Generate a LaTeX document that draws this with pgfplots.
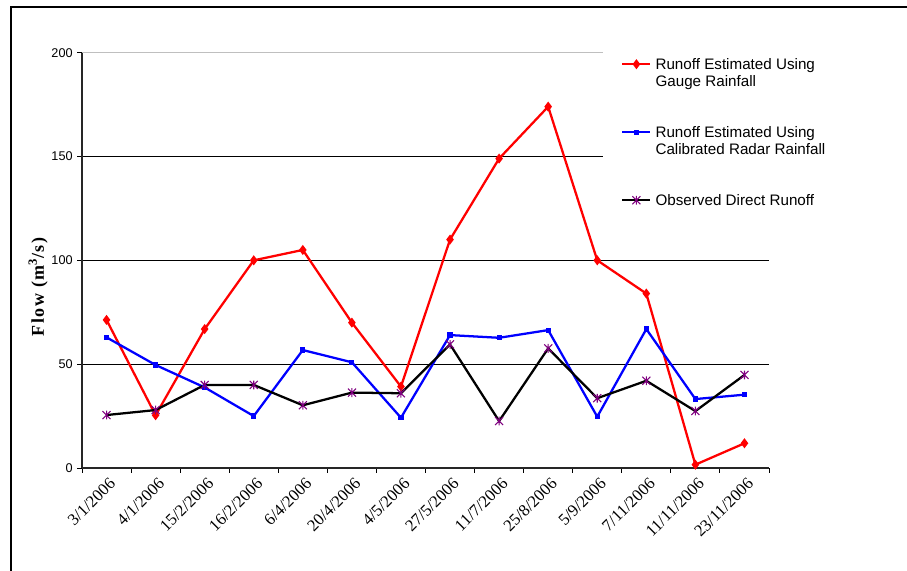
\documentclass[border=0pt]{standalone}
\usepackage{pgfplots}
\pgfplotsset{compat=1.18}
\usepackage{fontspec}
\setmainfont{Liberation Serif}
\newfontfamily\arial{Liberation Sans}
\newfontfamily\ylabfont[LetterSpace=8]{Liberation Serif}
\definecolor{starpurple}{RGB}{128,0,128}
\pgfdeclareplotmark{xlstar}{%
  \pgfpathmoveto{\pgfpoint{-\pgfplotmarksize}{-\pgfplotmarksize}}%
  \pgfpathlineto{\pgfpoint{\pgfplotmarksize}{\pgfplotmarksize}}%
  \pgfpathmoveto{\pgfpoint{-\pgfplotmarksize}{\pgfplotmarksize}}%
  \pgfpathlineto{\pgfpoint{\pgfplotmarksize}{-\pgfplotmarksize}}%
  \pgfpathmoveto{\pgfpoint{0pt}{-1.1\pgfplotmarksize}}%
  \pgfpathlineto{\pgfpoint{0pt}{1.1\pgfplotmarksize}}%
  \pgfusepathqstroke}
\pgfplotstableread{
x gauge radar observed
1 71.3 62.9 25.5
2 25.4 49.6 27.9
3 66.9 38.8 40.0
4 100.0 25.0 40.0
5 105.0 56.8 30.2
6 70.0 50.9 36.3
7 39.2 24.2 36.0
8 110.0 64.0 59.5
9 149.0 62.7 22.6
10 174.0 66.4 57.6
11 100.0 24.7 33.6
12 84.0 66.9 42.0
13 1.6 33.2 27.4
14 11.9 35.3 44.8
}\runoff
\begin{document}
\begin{tikzpicture}
\useasboundingbox (0,0) rectangle (680.25pt,428.25pt);
\draw[line width=1.5pt] (8.25pt,-2pt) -- (8.25pt,423pt) -- (690pt,423pt);
\begin{axis}[
  at={(61.5pt,77.25pt)}, anchor=south west,
  scale only axis, width=515.25pt, height=311.5pt,
  xmin=0.5, xmax=14.5, ymin=0, ymax=200,
  axis x line*=bottom, axis y line*=left,
  axis line style={line width=0.8pt, black!85},
  xtick={0.5,1.5,...,14.5}, xticklabels={},
  extra x ticks={1,...,14},
  extra x tick labels={3/1/2006,4/1/2006,15/2/2006,16/2/2006,6/4/2006,20/4/2006,4/5/2006,27/5/2006,11/7/2006,25/8/2006,5/9/2006,7/11/2006,11/11/2006,23/11/2006},
  extra x tick style={major tick length=0pt, tick style={draw=none}},
  ytick={0,50,100,150},
  extra y ticks={200},
  extra y tick style={grid style={black!25, line width=0.8pt}},
  tick align=outside, major tick length=3.5pt,
  tick style={black, line width=0.7pt},
  ymajorgrids, grid style={black, line width=0.6pt},
  /pgf/number format/assume math mode=true,
  yticklabel style={font=\arial\fontsize{9.5}{10}\selectfont},
  xticklabel style={font=\fontsize{12.5}{14}\selectfont, rotate=45, anchor=north east, inner sep=1pt, yshift=-4.5pt, xshift=-2.5pt},
  ylabel={Flow (m\textsuperscript{3}/s)},
  ylabel style={font=\ylabfont\fontsize{13.5}{15}\selectfont\bfseries, at={(axis description cs:-0.064,0.436)}, anchor=center},
  legend image code/.code={\draw[mark repeat=2,mark phase=2,#1] plot coordinates {(0pt,0pt)(10.5pt,0pt)(21pt,0pt)};},
  legend style={at={(axis description cs:0.7584,1.019)}, anchor=north west, fill=white, draw=none,
    inner xsep=13.5pt, inner ysep=8pt, column sep=3pt, row sep=0pt,
    font=\arial\fontsize{11.4}{12.75}\selectfont,
    nodes={inner xsep=0pt, inner ysep=0pt, text height=10.5pt, text depth=2.25pt}},
  legend cell align=left,
]
\addplot[red, line width=1.7pt, mark=diamond*, mark size=2.4pt, mark options={solid, fill=red}] table[x=x, y=gauge] {\runoff};
\addlegendentry{Runoff Estimated Using}
\addlegendimage{empty legend}\addlegendentry{Gauge Rainfall}
\addlegendimage{empty legend}\addlegendentry{}
\addlegendimage{empty legend}\addlegendentry{}
\addplot[blue, line width=1.7pt, mark=square*, mark size=1.1pt, mark options={solid, fill=blue}] table[x=x, y=radar] {\runoff};
\addlegendentry{Runoff Estimated Using}
\addlegendimage{empty legend}\addlegendentry{Calibrated Radar Rainfall}
\addlegendimage{empty legend}\addlegendentry{}
\addlegendimage{empty legend}\addlegendentry{}
\addplot[black, line width=1.7pt, mark=xlstar, mark size=3pt, mark options={solid, draw=starpurple, line width=0.8pt}] table[x=x, y=observed] {\runoff};
\addlegendentry{Observed Direct Runoff}
\end{axis}
\end{tikzpicture}
\end{document}
